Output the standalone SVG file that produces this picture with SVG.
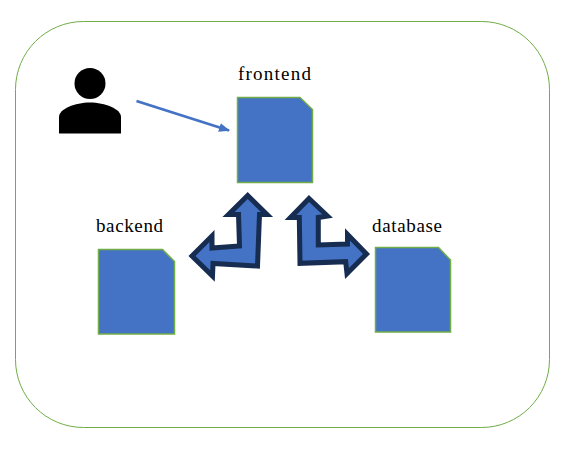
<svg xmlns="http://www.w3.org/2000/svg" width="568" height="455" viewBox="0 0 568 455">
<style>
.doc{fill:#4472c4;stroke:#70ad47;stroke-width:1.5}
.lbl{font-family:"Liberation Serif",serif;font-size:19px;fill:#000}
.dbl{fill:#4472c4;stroke:#172c51;stroke-width:5;stroke-linejoin:miter;stroke-miterlimit:8}
</style>
<defs>
<marker id="ah" markerUnits="userSpaceOnUse" markerWidth="11" markerHeight="9" refX="10" refY="4.500" orient="auto"><path d="M0 0L11 4.500L0 9Z" fill="#4472c4"/></marker>
</defs>
<rect x="0" y="0" width="568" height="455" fill="#fff"/>
<g id="boundary"><rect x="15.500" y="21.500" width="534" height="406" rx="68" ry="68" fill="none" stroke="#70ad47" stroke-width="1"/></g>
<g id="user"><circle cx="90" cy="83.500" r="15.500" fill="#000"/><path d="M59 133.500V117C59 109 75 102.500 90 102.500S121 109 121 117V133.500Z" fill="#000"/></g>
<g id="frontend"><path class="doc" d="M237.500 97.500H300L312.500 109.500V182.500H237.500Z"/><text class="lbl" x="238" y="80" textLength="73" lengthAdjust="spacing">frontend</text></g>
<g id="backend"><path class="doc" d="M98.500 249.500H162.500L174.500 261.500V334H98.500Z"/><text class="lbl" x="96" y="232" textLength="67" lengthAdjust="spacing">backend</text></g>
<g id="database"><path class="doc" d="M375.500 247.500H438.500L450.500 260V332H375.500Z"/><text class="lbl" x="372" y="232" textLength="70" lengthAdjust="spacing">database</text></g>
<g id="connectors">
<path d="M136.500 101L229 130.500" fill="none" stroke="#4472c4" stroke-width="2.800" marker-end="url(#ah)"/>
<path class="dbl" d="M247.700 195.500L267 214.500H259.500L257.500 266L213 263.500L212.500 276L192 256L212 236L212 248L239.500 246L238.500 214.500H228.500Z"/>
<path class="dbl" d="M309 198.500L327.500 216L318.300 217.500V245L347.500 244V234.500L366.500 254L347 273.500L345.700 261.700L300 263.300L299.300 217.500H290.500Z"/>
</g>
</svg>
